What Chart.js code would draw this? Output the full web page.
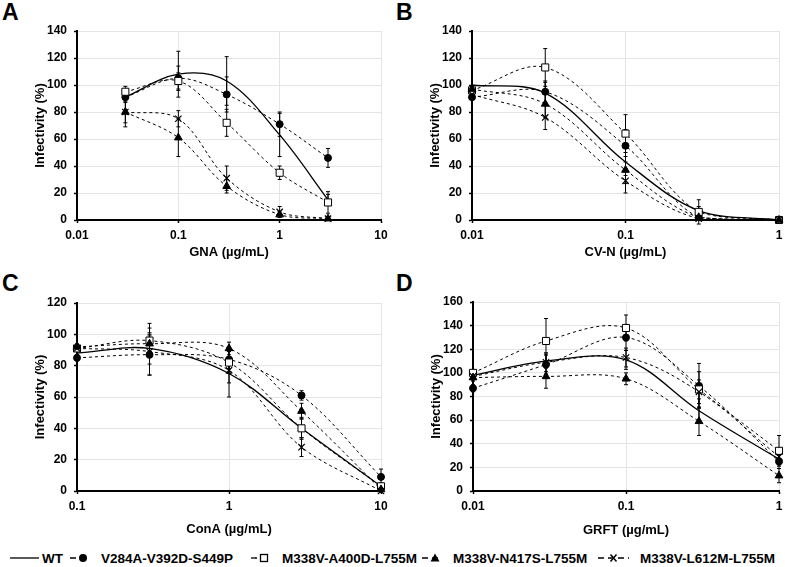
<!DOCTYPE html>
<html>
<head>
<meta charset="utf-8">
<script src="https://cdn.jsdelivr.net/npm/chart.js@4.4.1/dist/chart.umd.min.js"></script>
<style>
  body { margin: 0; background: #fff; font-family: Arial, "Liberation Sans", sans-serif; }
  #page { position: relative; width: 785px; height: 567px; overflow: hidden; }
  .panel { position: absolute; }
  .tag { position: absolute; font-weight: bold; font-size: 23px; line-height: 23px; }
  .leg { position: absolute; top: 550px; height: 16px; display: flex; align-items: center;
         font-weight: bold; font-size: 13.5px; white-space: nowrap; }
  .leg svg { margin-right: 3px; }
</style>
</head>
<body>
<div id="page">
  <div class="tag" style="left:2px;top:1px">A</div>
  <div class="tag" style="left:396px;top:1px">B</div>
  <div class="tag" style="left:2px;top:272px">C</div>
  <div class="tag" style="left:396px;top:272px">D</div>
  <div class="panel" style="left:0;top:0"><canvas id="chartA" width="390" height="265"></canvas></div>
  <div class="panel" style="left:390px;top:0"><canvas id="chartB" width="395" height="265"></canvas></div>
  <div class="panel" style="left:0;top:270px"><canvas id="chartC" width="390" height="275"></canvas></div>
  <div class="panel" style="left:390px;top:270px"><canvas id="chartD" width="395" height="275"></canvas></div>
  <div id="legend"></div>
</div>
<script>
const seriesNames = ['WT', 'V284A-V392D-S449P', 'M338V-A400D-L755M', 'M338V-N417S-L755M', 'M338V-L612M-L755M'];

// A - GNA
const gnaDose = [0.03, 0.1, 0.3, 1, 3];
const gnaTicks = [0.01, 0.1, 1, 10];
const gnaWT    = [91, 108, 103, 63, 15];
const gnaV284A = [91, 105, 93, 71, 46];
const gnaA400D = [95, 103, 72, 35, 13];
const gnaN417S = [80, 61, 25, 4, 1];
const gnaL612M = [80, 75, 31, 6, 1];
const gnaWTErr    = [0, 17, 18, 16, 4];
const gnaV284AErr = [4, 9, 13, 9, 7];
const gnaA400DErr = [4, 6, 10, 5, 8];
const gnaN417SErr = [8, 14, 5, 2, 1];
const gnaL612MErr = [11, 6, 9, 4, 1];

// B - CV-N
const cvnDose = [0.01, 0.03, 0.1, 0.3, 1];
const cvnTicks = [0.01, 0.1, 1];
const cvnWT    = [100, 94, 43, 7, 0];
const cvnV284A = [91, 95, 55, 2, 0];
const cvnA400D = [96, 113, 64, 6, 0];
const cvnN417S = [97, 86, 37, 2, 0];
const cvnL612M = [93, 76, 29, 1, 0];
const cvnWTErr    = [0, 8, 10, 3, 0];
const cvnV284AErr = [2, 8, 12, 2, 0];
const cvnA400DErr = [3, 14, 14, 9, 0];
const cvnN417SErr = [2, 10, 10, 2, 0];
const cvnL612MErr = [3, 9, 9, 1, 0];

// C - ConA
const conaDose = [0.1, 0.3, 1, 3, 10];
const conaTicks = [0.1, 1, 10];
const conaWT    = [88, 91, 75, 40, 3];
const conaV284A = [85, 87, 84, 61, 9];
const conaA400D = [91, 96, 82, 40, 3];
const conaN417S = [92, 94, 91, 51, 1];
const conaL612M = [91, 89, 77, 28, 0];
const conaWTErr    = [2, 10, 15, 6, 2];
const conaV284AErr = [2, 13, 6, 3, 5];
const conaA400DErr = [2, 11, 7, 7, 2];
const conaN417SErr = [2, 5, 4, 5, 1];
const conaL612MErr = [2, 15, 8, 6, 1];

// D - GRFT
const grftDose = [0.01, 0.03, 0.1, 0.3, 1];
const grftTicks = [0.01, 0.1, 1];
const grftWT    = [98, 110, 111, 68, 27];
const grftV284A = [87, 107, 130, 89, 25];
const grftA400D = [100, 127, 138, 86, 34];
const grftN417S = [96, 97, 95, 59, 13];
const grftL612M = [97, 109, 113, 84, 29];
const grftWTErr    = [2, 6, 8, 10, 5];
const grftV284AErr = [3, 8, 11, 19, 6];
const grftA400DErr = [2, 19, 11, 15, 13];
const grftN417SErr = [3, 10, 5, 12, 6];
const grftL612MErr = [3, 8, 8, 10, 6];

Chart.defaults.font.family = 'Arial, "Liberation Sans", sans-serif';
Chart.defaults.color = '#000';

const seriesStyle = [
  { borderWidth: 1.3, pointRadius: 0, order: 4 },
  { borderDash: [3, 3], pointStyle: 'circle', pointRadius: 3.5, pointBackgroundColor: '#000', order: 3 },
  { borderDash: [3, 3], pointStyle: 'rect', pointRadius: 5, pointBackgroundColor: '#fff', order: 2 },
  { borderDash: [3, 3], pointStyle: 'triangle', pointRadius: 4.5, pointBackgroundColor: '#000', order: 1 },
  { borderDash: [3, 3], pointStyle: 'crossRot', pointRadius: 4.5, pointBorderWidth: 1.2, order: 0 }
];

// draws SD bars under the markers, using the y scale of the chart
const errorBars = {
  id: 'errorBars',
  beforeDatasetsDraw(chart) {
    const ctx = chart.ctx, yScale = chart.scales.y;
    ctx.save();
    ctx.strokeStyle = '#000';
    ctx.lineWidth = 1;
    chart.data.datasets.forEach((ds, i) => {
      chart.getDatasetMeta(i).data.forEach((pt, j) => {
        const e = ds.errors[j];
        if (!e) return;
        const v = ds.data[j].y;
        const top = yScale.getPixelForValue(v + e);
        const bot = yScale.getPixelForValue(v - e);
        ctx.beginPath();
        ctx.moveTo(pt.x, top); ctx.lineTo(pt.x, bot);
        ctx.moveTo(pt.x - 2, top); ctx.lineTo(pt.x + 2, top);
        ctx.moveTo(pt.x - 2, bot); ctx.lineTo(pt.x + 2, bot);
        ctx.stroke();
      });
    });
    ctx.restore();
  }
};

function makePanel(id, box, plot, p) {
  const axisW = plot.left - box.left;
  const axisH = box.top + box.h - plot.bottom;
  const datasets = p.values.map((vals, i) => Object.assign({
    label: seriesNames[i],
    data: p.dose.map((d, j) => ({ x: d, y: vals[j] })),
    errors: p.errors[i],
    borderColor: '#000',
    borderWidth: 1,
    pointBorderColor: '#000',
    pointBorderWidth: 1,
    tension: 0.35,
    fill: false,
    clip: false
  }, seriesStyle[i]));

  new Chart(document.getElementById(id), {
    type: 'line',
    data: { datasets },
    plugins: [errorBars],
    options: {
      responsive: false,
      animation: false,
      events: [],
      layout: { padding: { left: 0, top: plot.top - box.top, right: box.left + box.w - plot.right, bottom: 0 } },
      plugins: { legend: { display: false }, tooltip: { enabled: false } },
      scales: {
        x: {
          type: 'logarithmic',
          min: p.ticks[0],
          max: p.ticks[p.ticks.length - 1],
          afterBuildTicks: s => { s.ticks = p.ticks.map(v => ({ value: v })); },
          afterFit: s => { s.height = axisH; s.paddingLeft = 0; s.paddingRight = 0; },
          ticks: { callback: v => String(v), font: { size: 12, weight: 'bold' }, padding: 5, maxRotation: 0, autoSkip: false },
          grid: { color: '#e4e4e4', lineWidth: 1, tickLength: 3, tickColor: '#000', tickWidth: 1.5 },
          border: { color: '#000', width: 2 },
          title: { display: true, text: p.xTitle, font: { size: 13, weight: 'bold' },
                   padding: { top: 0, bottom: box.top + box.h - p.xTitleY - 7.8 } }
        },
        y: {
          min: 0,
          max: p.yMax,
          afterFit: s => { s.width = axisW; s.paddingTop = 0; s.paddingBottom = 0; },
          ticks: { stepSize: 20, font: { size: 12, weight: 'bold' }, padding: 7 },
          grid: { color: '#e4e4e4', lineWidth: 1, tickLength: 3, tickColor: '#000', tickWidth: 1.5 },
          border: { color: '#000', width: 2 },
          title: { display: true, text: 'Infectivity (%)', font: { size: 13, weight: 'bold' },
                   padding: { top: axisW - 37 - 7.8, bottom: 0 } }
        }
      }
    }
  });
}

makePanel('chartA', { left: 0, top: 0, w: 390, h: 265 }, { left: 77, top: 31, right: 381, bottom: 220 }, {
  dose: gnaDose, ticks: gnaTicks, yMax: 140, xTitle: 'GNA (µg/mL)', xTitleY: 252,
  values: [gnaWT, gnaV284A, gnaA400D, gnaN417S, gnaL612M],
  errors: [gnaWTErr, gnaV284AErr, gnaA400DErr, gnaN417SErr, gnaL612MErr]
});
makePanel('chartB', { left: 390, top: 0, w: 395, h: 265 }, { left: 472, top: 31, right: 782, bottom: 220 }, {
  dose: cvnDose, ticks: cvnTicks, yMax: 140, xTitle: 'CV-N (µg/mL)', xTitleY: 252,
  values: [cvnWT, cvnV284A, cvnA400D, cvnN417S, cvnL612M],
  errors: [cvnWTErr, cvnV284AErr, cvnA400DErr, cvnN417SErr, cvnL612MErr]
});
makePanel('chartC', { left: 0, top: 270, w: 390, h: 275 }, { left: 77, top: 303, right: 381, bottom: 491 }, {
  dose: conaDose, ticks: conaTicks, yMax: 120, xTitle: 'ConA (µg/mL)', xTitleY: 529,
  values: [conaWT, conaV284A, conaA400D, conaN417S, conaL612M],
  errors: [conaWTErr, conaV284AErr, conaA400DErr, conaN417SErr, conaL612MErr]
});
makePanel('chartD', { left: 390, top: 270, w: 395, h: 275 }, { left: 473, top: 302, right: 781, bottom: 491 }, {
  dose: grftDose, ticks: grftTicks, yMax: 160, xTitle: 'GRFT (µg/mL)', xTitleY: 530,
  values: [grftWT, grftV284A, grftA400D, grftN417S, grftL612M],
  errors: [grftWTErr, grftV284AErr, grftA400DErr, grftN417SErr, grftL612MErr]
});

// shared legend row under the four panels
const legendLeft = [10, 70, 251, 422, 598];
const marker = [
  '',
  '<circle cx="13" cy="8" r="4" fill="#000"/>',
  '<rect x="9.5" y="4.5" width="7" height="7" fill="#fff" stroke="#000" stroke-width="1.3"/>',
  '<path d="M13 3.5 L17.5 11.5 L8.5 11.5 Z" fill="#000"/>',
  '<path d="M12.5 4.5 L18.5 11.5 M18.5 4.5 L12.5 11.5" stroke="#000" stroke-width="1.5"/>'
];
const legendEl = document.getElementById('legend');
seriesNames.forEach((name, i) => {
  const w = i === 0 ? 29 : (i === 4 ? 31 : 20);
  const line = i === 0
    ? '<line x1="0" y1="8" x2="29" y2="8" stroke="#000" stroke-width="1.3"/>'
    : '<line x1="0" y1="8" x2="' + w + '" y2="8" stroke="#000" stroke-width="1.3" stroke-dasharray="6 4"/>';
  const item = document.createElement('div');
  item.className = 'leg';
  item.style.left = legendLeft[i] + 'px';
  item.innerHTML = '<svg width="' + w + '" height="16">' + line + marker[i] + '</svg>'
    + '<span style="margin-left:' + (i === 0 ? 0 : 8) + 'px">' + name + '</span>';
  legendEl.appendChild(item);
});
</script>
</body>
</html>
